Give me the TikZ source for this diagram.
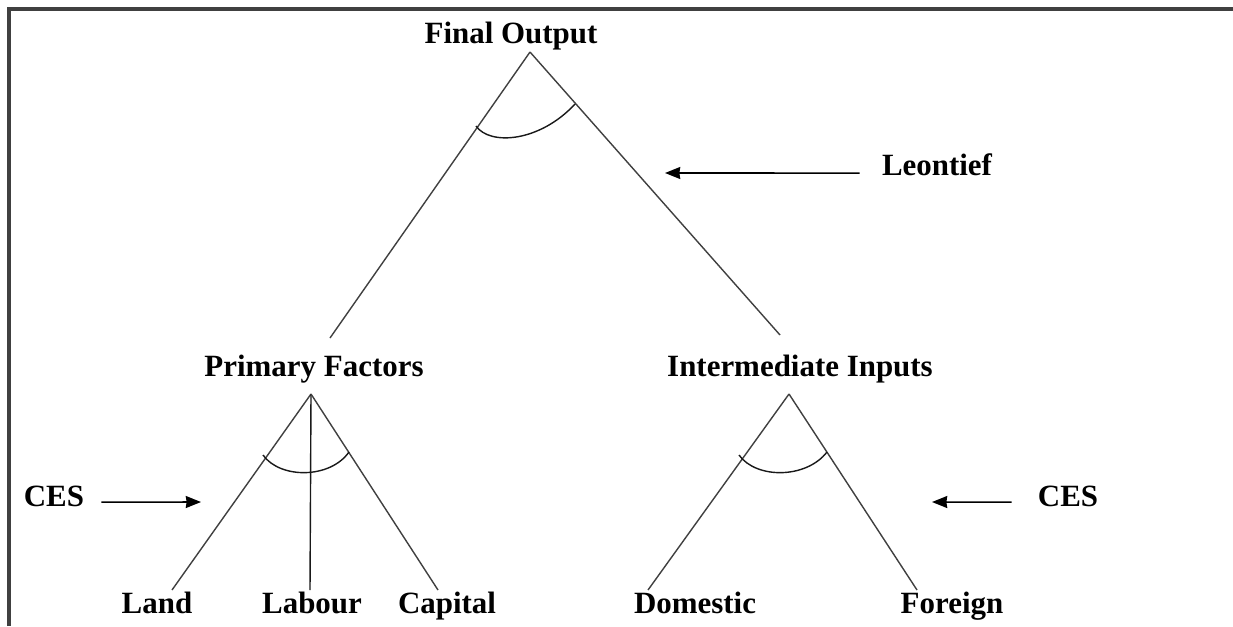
\documentclass[tikz,border=0pt]{standalone}
\usepackage{fontspec}
\setmainfont{Liberation Serif}
\usetikzlibrary{arrows.meta}

\begin{document}
\begin{tikzpicture}[x=0.025cm, y=-0.025cm,
    lbl/.style={font=\fontsize{22}{26}\selectfont\bfseries, inner sep=0pt, anchor=base},
    branch/.style={draw=black!75, line width=1pt},
    nest/.style={draw=black!90, line width=1pt},
    pointer/.style={-{Stealth[length=0.38cm, width=0.3cm, inset=0.6pt]}, line width=1.1pt}]
    \useasboundingbox (0,0) rectangle (1233,626);

    % frame
    \draw[line width=2.2pt, black!75] (9,626) -- (9,9) -- (1233,9);

    % labels
    \node[lbl] (out) at (511, 43) {Final Output};
    \node[lbl] (pf) at (314, 376) {Primary Factors};
    \node[lbl] (ii) at (800, 376) {Intermediate Inputs};
    \node[lbl] (land) at (157, 613) {Land};
    \node[lbl] (labour) at (312, 613) {Labour};
    \node[lbl] (capital) at (447, 613) {Capital};
    \node[lbl] (dom) at (695, 613) {Domestic};
    \node[lbl] (for) at (952, 613) {Foreign};
    \node[lbl] (leon) at (937, 175) {Leontief};
    \node[lbl] (cesl) at (54, 506) {CES};
    \node[lbl] (cesr) at (1068, 506) {CES};

    % apexes and feet of the branches
    \coordinate (out apex) at (530, 52);
    \coordinate (pf apex) at (311, 394);
    \coordinate (ii apex) at (789, 394);
    \coordinate (pf foot) at (330, 338);
    \coordinate (ii foot) at (780, 335);
    \coordinate (land foot) at (172, 590);
    \coordinate (labour foot) at (310, 590);
    \coordinate (capital foot) at (438, 590);
    \coordinate (dom foot) at (648, 590);
    \coordinate (for foot) at (917, 590);

    % top nest
    \draw[branch] (out apex) -- (pf foot);
    \draw[branch] (out apex) -- (ii foot);
    \draw[nest] (476, 126) .. controls (490, 146) and (540, 142) .. (575, 104);

    % primary factors nest
    \draw[branch] (pf apex) -- (land foot);
    \draw[nest] (pf apex) -- (labour foot);
    \draw[branch] (pf apex) -- (capital foot);
    \draw[nest] (263, 455) .. controls (280, 479) and (330, 479) .. (349, 452);

    % intermediate nest
    \draw[branch] (ii apex) -- (dom foot);
    \draw[branch] (ii apex) -- (for foot);
    \draw[nest] (739, 455) .. controls (756, 479) and (806, 479) .. (827, 452);

    % pointers
    \coordinate (leon tip) at (665, 173);
    \coordinate (cesl tip) at (201, 502);
    \coordinate (cesr tip) at (932, 502);
    \draw[pointer] ([xshift=-0.55cm, yshift=1.4pt]leon.base west) -- (leon tip);
    \draw[pointer] ([xshift=0.425cm, yshift=2.8pt]cesl.base east) -- (cesl tip);
    \draw[pointer] ([xshift=-0.65cm, yshift=2.8pt]cesr.base west) -- (cesr tip);
\end{tikzpicture}
\end{document}
